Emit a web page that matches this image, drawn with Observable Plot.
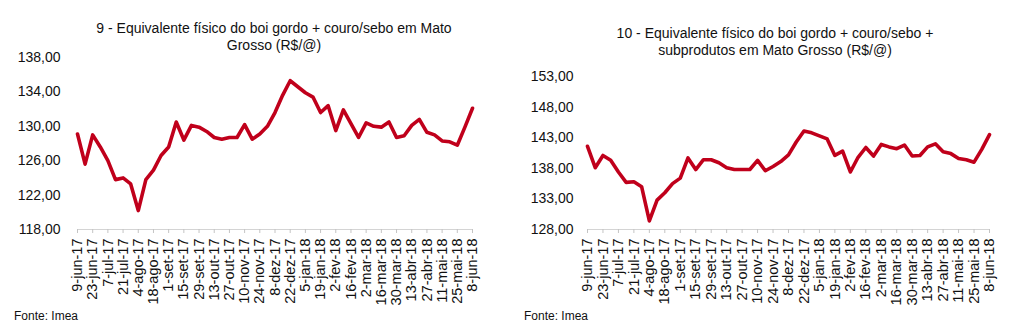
<!DOCTYPE html>
<html><head><meta charset="utf-8">
<script src="https://cdn.jsdelivr.net/npm/d3@7"></script>
<script src="https://cdn.jsdelivr.net/npm/@observablehq/plot@0.6"></script>
<style>
body{margin:0;background:#fff;font-family:"Liberation Sans",Arial,sans-serif;}
#wrap{position:relative;width:1016px;height:336px;overflow:hidden;background:#fff}
.panel{position:absolute;top:0;width:508px;height:336px}
.title{position:absolute;font-size:14px;line-height:16.5px;text-align:center;color:#111;white-space:nowrap;transform:translateX(-50%)}
.src{position:absolute;font-size:12px;color:#111;white-space:nowrap}
</style></head><body>
<div id="wrap"></div>
<script>
const weeks = ["9-jun-17","16-jun-17","23-jun-17","30-jun-17","7-jul-17","14-jul-17","21-jul-17","28-jul-17",
"4-ago-17","11-ago-17","18-ago-17","25-ago-17","1-set-17","8-set-17","15-set-17","22-set-17","29-set-17",
"6-out-17","13-out-17","20-out-17","27-out-17","3-nov-17","10-nov-17","17-nov-17","24-nov-17",
"1-dez-17","8-dez-17","15-dez-17","22-dez-17","29-dez-17","5-jan-18","12-jan-18","19-jan-18","26-jan-18",
"2-fev-18","9-fev-18","16-fev-18","23-fev-18","2-mar-18","9-mar-18","16-mar-18","23-mar-18","30-mar-18",
"6-abr-18","13-abr-18","20-abr-18","27-abr-18","4-mai-18","11-mai-18","18-mai-18","25-mai-18","1-jun-18","8-jun-18"];
const tickWeeks = ["9-jun-17","23-jun-17","7-jul-17","21-jul-17","4-ago-17","18-ago-17","1-set-17","15-set-17",
"29-set-17","13-out-17","27-out-17","10-nov-17","24-nov-17","8-dez-17","22-dez-17","5-jan-18","19-jan-18",
"2-fev-18","16-fev-18","2-mar-18","16-mar-18","30-mar-18","13-abr-18","27-abr-18","11-mai-18","25-mai-18","8-jun-18"];
const boiCouroSebo = [129.1,125.6,129.0,127.6,126.0,123.8,124.0,123.3,120.2,123.8,124.9,126.6,127.6,130.5,128.4,130.1,129.9,
129.4,128.7,128.5,128.7,128.7,130.2,128.5,129.1,130.0,131.6,133.6,135.3,134.6,133.9,133.4,131.6,132.4,129.5,131.9,
130.3,128.7,130.4,130.0,129.9,130.5,128.7,128.9,130.1,130.8,129.3,129.0,128.3,128.2,127.8,129.9,132.1];
const boiSubprodutos = [141.6,138.1,140.1,139.3,137.4,135.7,135.8,135.0,129.4,132.8,134.0,135.5,136.4,139.7,137.8,139.4,139.4,
138.9,138.1,137.8,137.8,137.8,139.3,137.6,138.3,139.1,140.2,142.3,144.1,143.8,143.3,142.8,140.1,140.8,137.4,139.8,
141.4,140.0,141.9,141.5,141.2,141.8,140.0,140.1,141.5,142.0,140.7,140.4,139.6,139.4,139.0,141.1,143.5];
const yTicksLeft = [118,122,126,130,134,138];
const yTicksRight = [128,133,138,143,148,153];
const titleLeft = ["9 - Equivalente físico do boi gordo + couro/sebo em Mato","Grosso (R$/@)"];
const titleRight = ["10 - Equivalente físico do boi gordo + couro/sebo +","subprodutos em Mato Grosso (R$/@)"];
const source = "Fonte: Imea";

const fmt = d => d.toFixed(2).replace(".", ",");
const wrap = document.getElementById("wrap");

function panel({left, values, yTicks, title, titleX, titleTop, mL, mR, mT, padY}) {
  const div = document.createElement("div");
  div.className = "panel";
  div.style.left = left + "px";
  const data = weeks.map((w, i) => ({week: w, value: values[i]}));
  const ymin = yTicks[0], ymax = yTicks[yTicks.length - 1];
  const chart = Plot.plot({
    width: 508, height: 336,
    marginLeft: mL, marginRight: mR, marginTop: mT, marginBottom: 107,
    style: {fontFamily: '"Liberation Sans", Arial, sans-serif', color: "#111", background: "transparent", overflow: "visible"},
    x: {type: "point", domain: weeks, padding: 0},
    y: {domain: [ymin, ymax]},
    marks: [
      Plot.ruleY([ymin], {stroke: "#d4d4d4", strokeWidth: 1.2}),
      Plot.ruleX(tickWeeks, {x: d => d, y1: ymin, y2: ymin, insetBottom: -4, stroke: "#c4c4c4"}),
      Plot.axisY({ticks: yTicks, tickSize: 0, tickPadding: padY, tickFormat: fmt, fontSize: 14, label: null}),
      Plot.axisX({ticks: tickWeeks, tickSize: 0, tickPadding: 9, tickRotate: -90, fontSize: 14.5, label: null}),
      Plot.line(data, {x: "week", y: "value", stroke: "#c0001b", strokeWidth: 3.6, strokeLinejoin: "round", strokeLinecap: "round"})
    ]
  });
  div.appendChild(chart);
  const t = document.createElement("div");
  t.className = "title";
  t.style.left = titleX + "px";
  t.style.top = titleTop + "px";
  t.innerHTML = title.map(s => s.replace(/&/g,"&amp;")).join("<br>");
  div.appendChild(t);
  const s = document.createElement("div");
  s.className = "src";
  s.style.left = "14px";
  s.style.top = "309px";
  s.textContent = source;
  div.appendChild(s);
  wrap.appendChild(div);
}

panel({left: 0, values: boiCouroSebo, yTicks: yTicksLeft, title: titleLeft, titleX: 274, titleTop: 20, mL: 77, mR: 36, mT: 57, padY: 17});
panel({left: 510, values: boiSubprodutos, yTicks: yTicksRight, title: titleRight, titleX: 265, titleTop: 25, mL: 77, mR: 29, mT: 76, padY: 14});
</script>
</body></html>
